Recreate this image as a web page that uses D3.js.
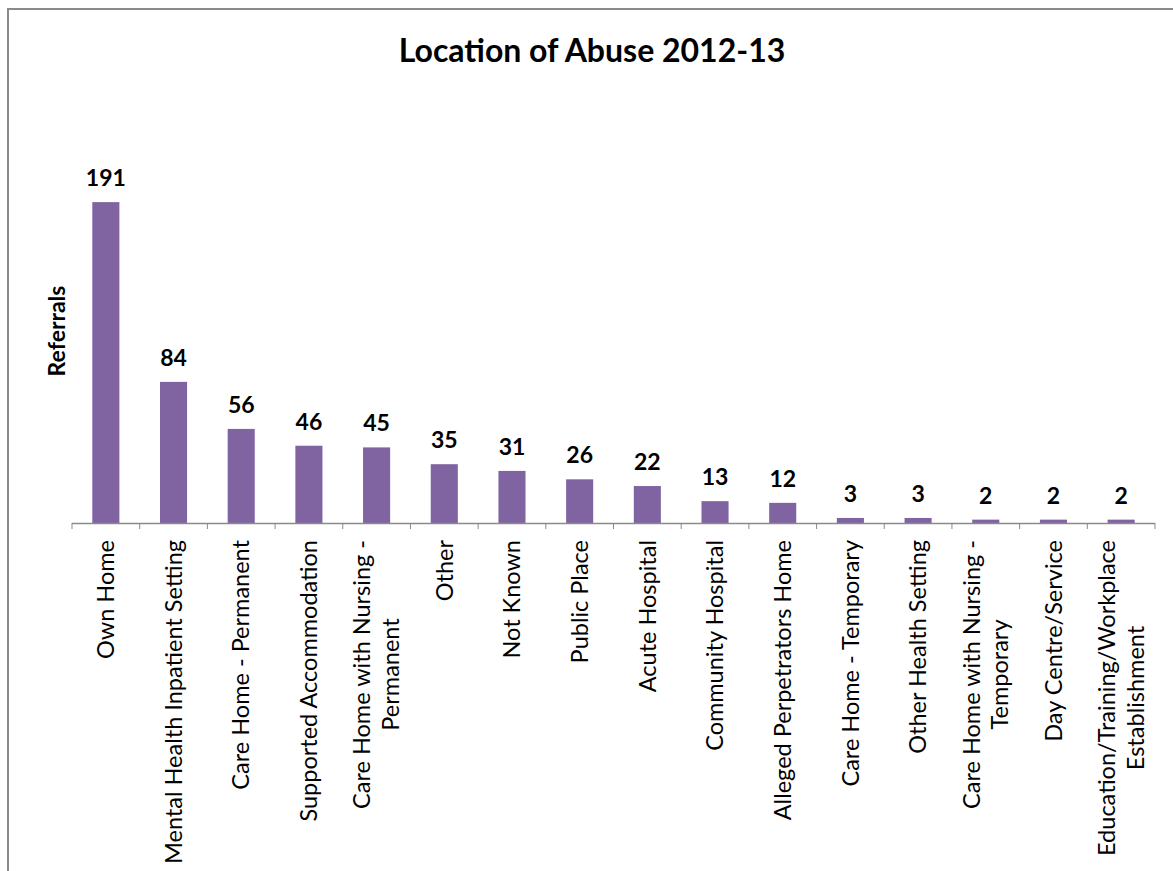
<!DOCTYPE html>
<html>
<head>
<meta charset="utf-8">
<script src="https://cdn.jsdelivr.net/npm/d3@7/dist/d3.min.js"></script>
<style>
  html, body { margin: 0; padding: 0; background: #fff; }
  svg { display: block; }
  text { font-family: Lato, "Open Sans", "Liberation Sans", sans-serif; fill: #000; }
</style>
</head>
<body>
<svg id="chart" width="1173" height="871"></svg>
<script>
// Referrals by location, 2012-13
const categories = [
  "Own Home",
  "Mental Health Inpatient Setting",
  "Care Home - Permanent",
  "Supported Accommodation",
  "Care Home with Nursing -|Permanent",
  "Other",
  "Not Known",
  "Public Place",
  "Acute Hospital",
  "Community Hospital",
  "Alleged Perpetrators Home",
  "Care Home - Temporary",
  "Other Health Setting",
  "Care Home with Nursing -|Temporary",
  "Day Centre/Service",
  "Education/Training/Workplace|Establishment"
];
const referrals = [191, 84, 56, 46, 45, 35, 31, 26, 22, 13, 12, 3, 3, 2, 2, 2];
const yDomain = [0, 200];

const title = "Location of Abuse 2012-13";
const yTitle = "Referrals";

const svg = d3.select("#chart");

// chart frame
svg.append("rect")
  .attr("x", 8).attr("y", 9)
  .attr("width", 1300).attr("height", 1000)
  .attr("fill", "#fff")
  .attr("stroke", "#8a8a8a")
  .attr("stroke-width", 2);

const plot = { left: 72, right: 1155, base: 523, top: 187 };

const x = d3.scaleBand()
  .domain(categories)
  .range([plot.left, plot.right])
  .paddingInner(0.6)
  .paddingOuter(0.3);

const y = d3.scaleLinear()
  .domain(yDomain)
  .range([plot.base, plot.top]);

// title
svg.append("text")
  .attr("x", 592).attr("y", 62)
  .attr("text-anchor", "middle")
  .style("font-size", "32px")
  .style("font-weight", "bold")
  .text(title);

// y-axis title
svg.append("text")
  .attr("transform", "translate(57,331) rotate(-90)")
  .attr("text-anchor", "middle")
  .attr("dy", "0.35em")
  .style("font-size", "23px")
  .style("font-weight", "bold")
  .text(yTitle);

// bars
svg.append("g").selectAll("rect")
  .data(categories)
  .join("rect")
  .attr("x", d => x(d))
  .attr("width", x.bandwidth())
  .attr("y", (d, i) => y(referrals[i]))
  .attr("height", (d, i) => y(0) - y(referrals[i]))
  .attr("fill", "#8064A2");

// value labels
svg.append("g").selectAll("text")
  .data(categories)
  .join("text")
  .attr("x", d => x(d) + x.bandwidth() / 2)
  .attr("y", (d, i) => y(referrals[i]) - 16)
  .attr("text-anchor", "middle")
  .style("font-size", "23px")
  .style("font-weight", "bold")
  .text((d, i) => referrals[i]);

// category axis: baseline and ticks between categories
const axis = svg.append("g");
axis.append("line")
  .attr("x1", plot.left).attr("x2", plot.right)
  .attr("y1", plot.base + 0.5).attr("y2", plot.base + 0.5)
  .attr("stroke", "#8a8a8a").attr("stroke-width", 1.5);

const step = x.step();
const boundaries = d3.range(categories.length + 1).map(i => x.range()[0] + i * step);
axis.selectAll("line.tick")
  .data(boundaries)
  .join("line")
  .attr("class", "tick")
  .attr("x1", d => d).attr("x2", d => d)
  .attr("y1", plot.base).attr("y2", plot.base + 6)
  .attr("stroke", "#8a8a8a").attr("stroke-width", 1);

// rotated category labels, multi-line labels centred on the longest line
const fontSize = 23.5;
const lineGap = 1.22 * fontSize;
const labels = axis.selectAll("g.label")
  .data(categories)
  .join("g")
  .attr("class", "label")
  .attr("transform", d => `translate(${x(d) + x.bandwidth() / 2},540) rotate(-90)`);

labels.each(function(d) {
  const g = d3.select(this);
  const lines = d.split("|");
  const texts = lines.map((ln, i) =>
    g.append("text")
      .style("font-size", fontSize + "px")
      .attr("text-anchor", "middle")
      .attr("y", (i - (lines.length - 1) / 2) * lineGap)
      .attr("dy", "0.35em")
      .text(ln)
  );
  const maxLen = d3.max(texts, t => t.node().getComputedTextLength());
  texts.forEach(t => t.attr("x", -maxLen / 2));
});
</script>
</body>
</html>
